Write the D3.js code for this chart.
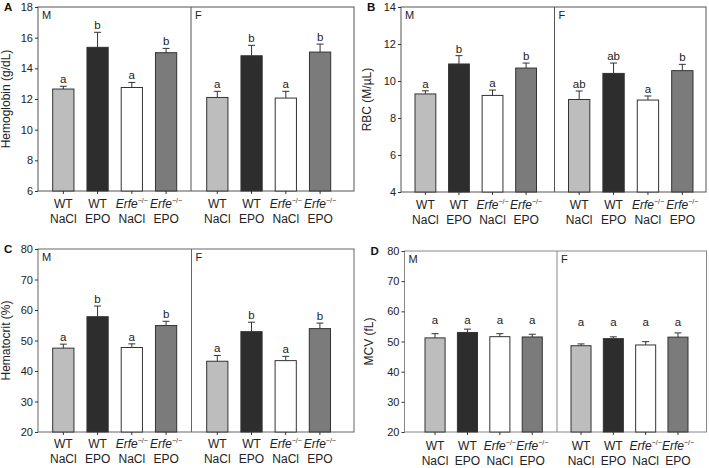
<!DOCTYPE html>
<html>
<head>
<meta charset="utf-8">
<script src="https://cdn.jsdelivr.net/npm/d3@7"></script>
<style>
  body { margin: 0; background: #fff; }
  svg { font-family: "Liberation Sans", Arial, sans-serif; }
</style>
</head>
<body>
<svg id="chart" width="709" height="468"></svg>
<script>
// groups along each half of a panel
var groups = ["WT NaCl", "WT EPO", "Erfe NaCl", "Erfe EPO"]
var genotype = ["WT", "WT", "Erfe", "Erfe"]
var treatment = ["NaCl", "EPO", "NaCl", "EPO"]
var sexes = ["M", "F"]

// values, [M, F]
var hemoglobinMean = [[12.65, 15.37, 12.75, 15.02], [12.1, 14.82, 12.06, 15.06]]
var hemoglobinSe = [[0.18, 0.98, 0.33, 0.28], [0.4, 0.68, 0.44, 0.52]]
var hemoglobinLetters = [["a", "b", "a", "b"], ["a", "b", "a", "b"]]
var hemoglobinTicks = [6, 8, 10, 12, 14, 16, 18]

var rbcMean = [[9.3, 10.92, 9.22, 10.7], [9.0, 10.41, 8.97, 10.56]]
var rbcSe = [[0.17, 0.45, 0.29, 0.27], [0.46, 0.56, 0.22, 0.34]]
var rbcLetters = [["a", "b", "a", "b"], ["ab", "ab", "a", "b"]]
var rbcTicks = [4, 6, 8, 10, 12, 14]

var hctMean = [[47.5, 57.8, 47.7, 54.9], [43.2, 52.9, 43.4, 53.9]]
var hctSe = [[1.3, 3.5, 1.2, 1.4], [1.9, 3.1, 1.4, 1.8]]
var hctLetters = [["a", "b", "a", "b"], ["a", "b", "a", "b"]]
var hctTicks = [20, 30, 40, 50, 60, 70, 80]

var mcvMean = [[51.2, 53.0, 51.6, 51.5], [48.6, 50.95, 48.85, 51.45]]
var mcvSe = [[1.4, 1.1, 1.0, 0.9], [0.6, 0.6, 1.1, 1.4]]
var mcvLetters = [["a", "a", "a", "a"], ["a", "a", "a", "a"]]
var mcvTicks = [20, 30, 40, 50, 60, 70, 80]

var fills = ["#bdbdbd", "#2d2d2d", "#ffffff", "#7b7b7b"]

var panels = [
  {key: "A", title: "Hemoglobin (g/dL)", mean: hemoglobinMean, se: hemoglobinSe, letters: hemoglobinLetters, ticks: hemoglobinTicks,
   left: 38, div: 191, right: 354, top: 7, bottom: 191, bars: [[52.7, 176.7], [206.7, 330.7]], frame: "#555", lab: 17, tt: 28},
  {key: "B", title: "RBC (M/\u00b5L)", mean: rbcMean, se: rbcSe, letters: rbcLetters, ticks: rbcTicks,
   left: 401, div: 554.5, right: 706, top: 7, bottom: 192, bars: [[415, 536.5], [568.5, 693]], frame: "#555", lab: 17, tt: 30},
  {key: "C", title: "Hematocrit (%)", mean: hctMean, se: hctSe, letters: hctLetters, ticks: hctTicks,
   left: 38, div: 191.5, right: 354, top: 249, bottom: 432, bars: [[52.7, 176.7], [206.7, 330.5]], frame: "#666", lab: 16, tt: 28},
  {key: "D", title: "MCV (fL)", mean: mcvMean, se: mcvSe, letters: mcvLetters, ticks: mcvTicks, letterAt: [55.8, 55.0],
   left: 404.5, div: 557, right: 706.5, top: 251, bottom: 432, bars: [[425, 542.3], [571, 688]], frame: "#888", lab: 17.5, tt: 32}
]

var svg = d3.select('#chart')

panels.forEach(function(p){
  var g = svg.append('g')
  var y = d3.scaleLinear().domain(d3.extent(p.ticks)).range([p.bottom, p.top])

  // frame and M/F divider
  g.append('rect').attr('x', p.left).attr('y', p.top)
    .attr('width', p.right - p.left).attr('height', p.bottom - p.top)
    .attr('fill', 'none').attr('stroke', p.frame).attr('stroke-width', 1)
  g.append('line').attr('x1', p.div).attr('x2', p.div).attr('y1', p.top).attr('y2', p.bottom)
    .attr('stroke', p.frame).attr('stroke-width', 1)

  var yAxis = g.append('g').attr('transform', 'translate(' + p.left + ',0)')
    .call(d3.axisLeft(y).tickValues(p.ticks).tickSize(3).tickPadding(2))
  yAxis.select('.domain').remove()
  yAxis.selectAll('line').attr('stroke', '#333')
  yAxis.selectAll('text').attr('font-size', 11).attr('fill', '#222').attr('font-family', null)

  g.append('text').attr('transform', 'translate(' + (p.left - p.tt) + ',' + ((p.top + p.bottom) / 2) + ') rotate(-90)')
    .attr('text-anchor', 'middle').attr('font-size', 12).attr('fill', '#222').text(p.title)

  g.append('text').attr('x', p.left - 34).attr('y', p.top + 4)
    .attr('font-size', 11.5).attr('font-weight', 'bold').attr('fill', '#111').text(p.key)

  sexes.forEach(function(sex, si){
    var x = d3.scaleBand().domain(groups).range(p.bars[si]).paddingInner(0.38).paddingOuter(0)
    var hg = g.append('g')

    hg.append('text').attr('x', (si ? p.div : p.left) + 4).attr('y', p.top + 12)
      .attr('font-size', 11).attr('fill', '#222').text(sex)

    var rows = groups.map(function(d, i){
      return {group: d, mean: p.mean[si][i], se: p.se[si][i], letter: p.letters[si][i], fill: fills[i], i: i}
    })

    hg.selectAll('rect.bar').data(rows).join('rect').attr('class', 'bar')
      .attr('x', function(d){ return x(d.group) })
      .attr('width', x.bandwidth())
      .attr('y', function(d){ return y(d.mean) })
      .attr('height', function(d){ return p.bottom - y(d.mean) })
      .attr('fill', ƒfill).attr('stroke', '#333').attr('stroke-width', 1)

    var cx = function(d){ return x(d.group) + x.bandwidth() / 2 }
    hg.selectAll('line.err').data(rows).join('line').attr('class', 'err')
      .attr('x1', cx).attr('x2', cx)
      .attr('y1', function(d){ return y(d.mean) }).attr('y2', function(d){ return y(d.mean + d.se) })
      .attr('stroke', '#333')
    hg.selectAll('line.cap').data(rows).join('line').attr('class', 'cap')
      .attr('x1', function(d){ return cx(d) - 3.5 }).attr('x2', function(d){ return cx(d) + 3.5 })
      .attr('y1', function(d){ return y(d.mean + d.se) }).attr('y2', function(d){ return y(d.mean + d.se) })
      .attr('stroke', '#333')

    hg.selectAll('text.letter').data(rows).join('text').attr('class', 'letter')
      .attr('x', cx)
      .attr('y', function(d){ return p.letterAt ? y(p.letterAt[si]) : y(d.mean + d.se) - 3 })
      .attr('text-anchor', 'middle').attr('font-size', 11.5).attr('fill', '#222')
      .text(function(d){ return d.letter })

    var xAxis = hg.append('g').attr('transform', 'translate(0,' + p.bottom + ')')
      .call(d3.axisBottom(x).tickSize(3).tickFormat(''))
    xAxis.select('.domain').remove()
    xAxis.selectAll('line').attr('stroke', '#333')

    // two line group labels
    var l1 = hg.selectAll('text.l1').data(rows).join('text').attr('class', 'l1')
      .attr('x', cx).attr('y', p.bottom + p.lab)
      .attr('text-anchor', 'middle').attr('font-size', 12).attr('fill', '#222')
    l1.append('tspan').attr('font-style', function(d){ return genotype[d.i] == 'Erfe' ? 'italic' : null })
      .text(function(d){ return genotype[d.i] })
    l1.filter(function(d){ return genotype[d.i] == 'Erfe' }).append('tspan')
      .attr('font-size', 7).attr('dy', -5).text('\u2212/\u2212')
    hg.selectAll('text.l2').data(rows).join('text').attr('class', 'l2')
      .attr('x', cx).attr('y', p.bottom + p.lab + 15)
      .attr('text-anchor', 'middle').attr('font-size', 12).attr('fill', '#222')
      .text(function(d){ return treatment[d.i] })
  })
})

function ƒfill(d){ return d.fill }
</script>
</body>
</html>
